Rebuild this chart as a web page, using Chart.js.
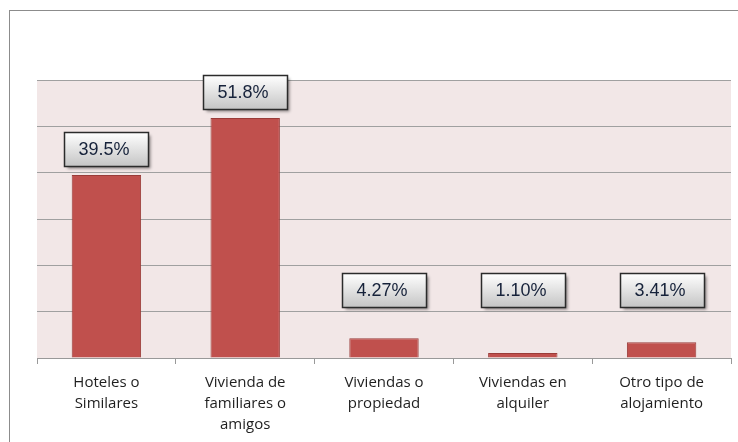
<!DOCTYPE html>
<html>
<head>
<meta charset="utf-8">
<script src="https://cdn.jsdelivr.net/npm/chart.js@4/dist/chart.umd.min.js"></script>
<style>
  html, body { margin: 0; padding: 0; background: #fff; }
  canvas { display: block; }
</style>
</head>
<body>
<canvas id="myChart" width="738" height="442"></canvas>
<script>
const categories = [
  ['Hoteles o', 'Similares'],
  ['Vivienda de', 'familiares o', 'amigos'],
  ['Viviendas o', 'propiedad'],
  ['Viviendas en', 'alquiler'],
  ['Otro tipo de', 'alojamiento']
];
const values = [39.5, 51.8, 4.27, 1.10, 3.41];
const valueLabels = ['39.5%', '51.8%', '4.27%', '1.10%', '3.41%'];

// plot background + outer frame
const frame = {
  id: 'frame',
  beforeDraw(chart) {
    const { ctx, chartArea } = chart;
    ctx.save();
    ctx.fillStyle = '#fff';
    ctx.fillRect(0, 0, chart.width, chart.height);
    ctx.strokeStyle = '#8c8c8c';
    ctx.lineWidth = 1;
    ctx.strokeRect(9.5, 10.5, 900, 900);
    ctx.fillStyle = '#F2E7E7';
    ctx.fillRect(chartArea.left, chartArea.top, chartArea.right - chartArea.left, chartArea.bottom - chartArea.top);
    ctx.restore();
  }
};

// boxed value labels
const boxLabels = {
  id: 'boxLabels',
  afterDatasetsDraw(chart) {
    const { ctx } = chart;
    const meta = chart.getDatasetMeta(0);
    const yScale = chart.scales.y;
    const w = 84, h = 34;
    meta.data.forEach((bar, i) => {
      const bottom = Math.min(bar.y - 9, yScale.getPixelForValue(11));
      const x = Math.round(bar.x - w / 2) + 0.5;
      const y = Math.round(bottom - h) + 0.5;
      ctx.save();
      ctx.shadowColor = 'rgba(0,0,0,0.45)';
      ctx.shadowBlur = 3;
      ctx.shadowOffsetX = 2;
      ctx.shadowOffsetY = 2;
      const g = ctx.createLinearGradient(0, y, 0, y + h);
      g.addColorStop(0, '#ffffff');
      g.addColorStop(1, '#c4c4c4');
      ctx.fillStyle = g;
      ctx.fillRect(x, y, w, h);
      ctx.shadowColor = 'transparent';
      ctx.strokeStyle = '#2b2b2b';
      ctx.lineWidth = 1.5;
      ctx.strokeRect(x, y, w, h);
      ctx.fillStyle = '#16223a';
      ctx.font = '18px "Liberation Sans", Arial, sans-serif';
      ctx.textBaseline = 'middle';
      ctx.textAlign = 'left';
      ctx.fillText(valueLabels[i], x + 14, y + h / 2 + 1);
      ctx.restore();
    });
  }
};

new Chart(document.getElementById('myChart'), {
  type: 'bar',
  data: {
    labels: categories,
    datasets: [{
      data: values,
      backgroundColor: '#C0504D',
      borderColor: '#9A3C39',
      borderWidth: 1,
      categoryPercentage: 1,
      barPercentage: 0.5
    }]
  },
  options: {
    responsive: false,
    animation: false,
    layout: { padding: { left: 37, right: 7, top: 80, bottom: 0 } },
    plugins: {
      legend: { display: false },
      tooltip: { enabled: false }
    },
    scales: {
      x: {
        offset: true,
        grid: { offset: true, drawOnChartArea: false, tickLength: 6, color: '#999' },
        border: { color: '#999' },
        ticks: {
          color: '#1f1f1f',
          padding: 8,
          maxRotation: 0,
          font: { family: '"Open Sans", sans-serif', size: 15, lineHeight: 1.4 }
        },
        afterFit(scale) { scale.height = 84; }
      },
      y: {
        min: 0,
        max: 60,
        ticks: { display: false, stepSize: 10 },
        border: { display: false },
        grid: { color: '#A0A0A0', drawTicks: false },
        afterFit(scale) { scale.width = 0; }
      }
    }
  },
  plugins: [frame, boxLabels]
});
</script>
</body>
</html>
